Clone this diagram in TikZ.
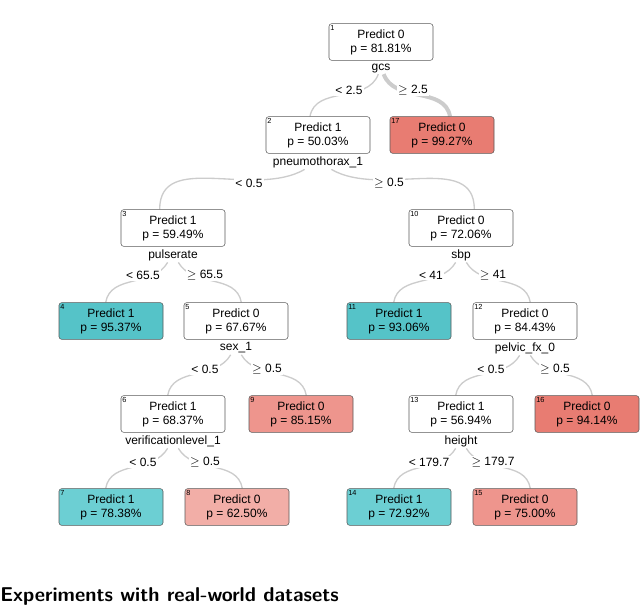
\documentclass[tikz,border=0pt]{standalone}
\usepackage{fontspec}
\setmainfont{Liberation Sans}
\usetikzlibrary{backgrounds}
\definecolor{tealA}{HTML}{55C3C8}
\definecolor{tealB}{HTML}{6CCFD3}
\definecolor{redA}{HTML}{E87C72}
\definecolor{redB}{HTML}{EE958D}
\definecolor{redC}{HTML}{F2AEA7}
\begin{document}
\begin{tikzpicture}[x=0.75pt,y=-0.75pt,
  box/.style={draw=black!65,rounded corners=2pt,minimum width=78pt,minimum height=27.5pt,align=center,inner sep=1pt,font=\fontsize{9}{10.5}\selectfont,fill=white},
  num/.style={label={[anchor=north west,font=\fontsize{5.5}{6}\selectfont,inner sep=1pt]north west:#1}},
  split/.style={font=\fontsize{9}{10}\selectfont,inner sep=1pt},
  el/.style={font=\fontsize{9}{10}\selectfont,inner sep=1pt,fill=white},
  edge/.style={draw=black!20,line width=1pt}]
\useasboundingbox (0,0) rectangle (640,608);
% nodes
\node[box,num=1] (n1) at (381,42) {Predict 0\\p = 81.81\%};
\node[split,anchor=north] (s1) at (381,62) {gcs};
\node[box,num=2] (n2) at (318,135) {Predict 1\\p = 50.03\%};
\node[split,anchor=north] (s2) at (318,155) {pneumothorax\_1};
\node[box,num=17,fill=redA] (n17) at (442,135) {Predict 0\\p = 99.27\%};
\node[box,num=3] (n3) at (173,228) {Predict 1\\p = 59.49\%};
\node[split,anchor=north] (s3) at (173,248) {pulserate};
\node[box,num=10] (n10) at (461,228) {Predict 0\\p = 72.06\%};
\node[split,anchor=north] (s10) at (461,248) {sbp};
\node[box,num=4,fill=tealA] (n4) at (111,321) {Predict 1\\p = 95.37\%};
\node[box,num=5] (n5) at (236,321) {Predict 0\\p = 67.67\%};
\node[split,anchor=north] (s5) at (236,341) {sex\_1};
\node[box,num=11,fill=tealA] (n11) at (399,321) {Predict 1\\p = 93.06\%};
\node[box,num=12] (n12) at (525,321) {Predict 0\\p = 84.43\%};
\node[split,anchor=north] (s12) at (525,341) {pelvic\_fx\_0};
\node[box,num=6] (n6) at (173,414) {Predict 1\\p = 68.37\%};
\node[split,anchor=north] (s6) at (173,434) {verificationlevel\_1};
\node[box,num=9,fill=redB] (n9) at (301,414) {Predict 0\\p = 85.15\%};
\node[box,num=13] (n13) at (461,414) {Predict 1\\p = 56.94\%};
\node[split,anchor=north] (s13) at (461,434) {height};
\node[box,num=16,fill=redA] (n16) at (587,414) {Predict 0\\p = 94.14\%};
\node[box,num=7,fill=tealB] (n7) at (111,507) {Predict 1\\p = 78.38\%};
\node[box,num=8,fill=redC] (n8) at (237,507) {Predict 0\\p = 62.50\%};
\node[box,num=14,fill=tealB] (n14) at (399,507) {Predict 1\\p = 72.92\%};
\node[box,num=15,fill=redB] (n15) at (525,507) {Predict 0\\p = 75.00\%};
% edge labels
\node[el] (l1) at (349,90) {< 2.5};
\node[el] (r1) at (413,90) {$\geq$ 2.5};
\node[el] (l2) at (249,183) {< 0.5};
\node[el] (r2) at (389,183) {$\geq$ 0.5};
\node[el] (l3) at (143,275) {< 65.5};
\node[el] (r3) at (205,275) {$\geq$ 65.5};
\node[el] (l10) at (431,275) {< 41};
\node[el] (r10) at (493,275) {$\geq$ 41};
\node[el] (l5) at (205,369) {< 0.5};
\node[el] (r5) at (267,369) {$\geq$ 0.5};
\node[el] (l12) at (491,369) {< 0.5};
\node[el] (r12) at (555,369) {$\geq$ 0.5};
\node[el] (l6) at (143,462) {< 0.5};
\node[el] (r6) at (205,462) {$\geq$ 0.5};
\node[el] (l13) at (429,462) {< 179.7};
\node[el] (r13) at (493,462) {$\geq$ 179.7};
\node[font=\sffamily\bfseries\fontsize{15}{18}\selectfont,anchor=west,inner sep=0pt] (h) at (0,596) {Experiments with real-world datasets};
\begin{scope}[on background layer]
\draw[edge] ([xshift=-2pt]s1.south) to[out=-110,in=80] ([xshift=-6pt]n2.north);
\draw[edge,line width=3pt] ([xshift=2pt]s1.south) to[out=-70,in=100] ([xshift=6pt]n17.north);
\draw[edge] ([xshift=-10pt]s2.south) to[out=-150,in=90] ([xshift=-10pt]n3.north);
\draw[edge] ([xshift=10pt]s2.south) to[out=-30,in=90] ([xshift=10pt]n10.north);
\draw[edge] ([xshift=-4pt]s3.south) to[out=-120,in=80] ([xshift=-4pt]n4.north);
\draw[edge] ([xshift=4pt]s3.south) to[out=-60,in=100] ([xshift=4pt]n5.north);
\draw[edge] ([xshift=-4pt]s10.south) to[out=-120,in=80] ([xshift=-4pt]n11.north);
\draw[edge] ([xshift=4pt]s10.south) to[out=-60,in=100] ([xshift=4pt]n12.north);
\draw[edge] ([xshift=-4pt]s5.south) to[out=-120,in=80] ([xshift=-4pt]n6.north);
\draw[edge] ([xshift=4pt]s5.south) to[out=-60,in=100] ([xshift=4pt]n9.north);
\draw[edge] ([xshift=-4pt]s12.south) to[out=-120,in=80] ([xshift=-4pt]n13.north);
\draw[edge] ([xshift=4pt]s12.south) to[out=-60,in=100] ([xshift=4pt]n16.north);
\draw[edge] ([xshift=-4pt]s6.south) to[out=-120,in=80] ([xshift=-4pt]n7.north);
\draw[edge] ([xshift=4pt]s6.south) to[out=-60,in=100] ([xshift=4pt]n8.north);
\draw[edge] ([xshift=-4pt]s13.south) to[out=-120,in=80] ([xshift=-4pt]n14.north);
\draw[edge] ([xshift=4pt]s13.south) to[out=-60,in=100] ([xshift=4pt]n15.north);
\end{scope}
\end{tikzpicture}
\end{document}
